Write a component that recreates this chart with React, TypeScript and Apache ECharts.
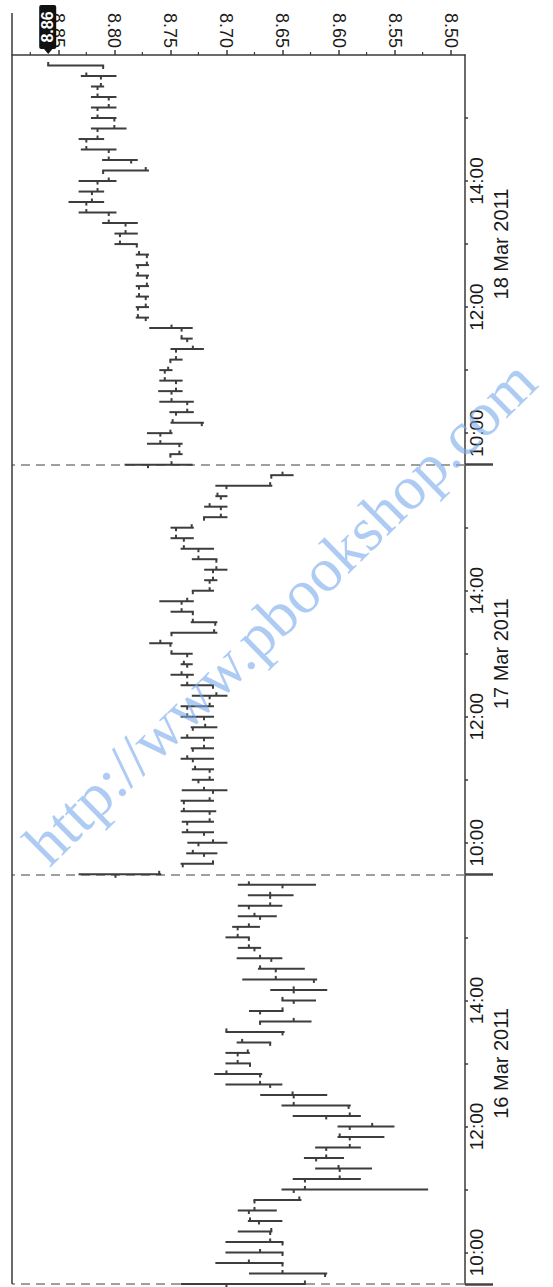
import React, { useEffect, useRef } from "react";
import * as echarts from "echarts";

// ---------- data ----------
const sessionDates = ["16 Mar 2011", "17 Mar 2011", "18 Mar 2011"];
const sessionOpen = "09:30";
const sessionClose = "16:00";
const barTimes = [
  "09:30", "09:40", "09:50", "10:00", "10:10", "10:20", "10:30", "10:40", "10:50",
  "11:00", "11:10", "11:20", "11:30", "11:40", "11:50", "12:00", "12:10", "12:20",
  "12:30", "12:40", "12:50", "13:00", "13:10", "13:20", "13:30", "13:40", "13:50",
  "14:00", "14:10", "14:20", "14:30", "14:40", "14:50", "15:00", "15:10", "15:20",
  "15:30", "15:40", "15:50",
];
// [open, high, low, close]
const day1 = [
  [8.70, 8.74, 8.63, 8.63], [8.612, 8.679, 8.611, 8.65], [8.65, 8.709, 8.65, 8.68],
  [8.65, 8.70, 8.65, 8.67], [8.65, 8.70, 8.65, 8.661], [8.661, 8.689, 8.66, 8.66],
  [8.671, 8.68, 8.651, 8.679], [8.68, 8.689, 8.656, 8.675], [8.675, 8.675, 8.634, 8.635],
  [8.64, 8.65, 8.521, 8.63], [8.63, 8.64, 8.581, 8.599], [8.599, 8.62, 8.571, 8.60],
  [8.62, 8.63, 8.596, 8.611], [8.611, 8.62, 8.581, 8.59], [8.59, 8.60, 8.56, 8.599],
  [8.59, 8.60, 8.551, 8.57], [8.611, 8.64, 8.581, 8.59], [8.591, 8.65, 8.59, 8.64],
  [8.64, 8.669, 8.611, 8.641], [8.661, 8.70, 8.651, 8.67], [8.67, 8.71, 8.669, 8.70],
  [8.679, 8.70, 8.679, 8.69], [8.69, 8.70, 8.68, 8.681], [8.661, 8.69, 8.661, 8.686],
  [8.65, 8.70, 8.649, 8.70], [8.67, 8.67, 8.625, 8.64], [8.67, 8.679, 8.65, 8.65],
  [8.64, 8.65, 8.621, 8.65], [8.64, 8.66, 8.611, 8.64], [8.622, 8.685, 8.62, 8.656],
  [8.656, 8.671, 8.631, 8.67], [8.66, 8.69, 8.651, 8.67], [8.675, 8.689, 8.67, 8.68],
  [8.68, 8.70, 8.68, 8.69], [8.69, 8.694, 8.671, 8.68], [8.67, 8.689, 8.656, 8.675],
  [8.68, 8.689, 8.651, 8.661], [8.661, 8.68, 8.641, 8.661], [8.65, 8.689, 8.621, 8.68],
];
const day2 = [
  [8.799, 8.831, 8.759, 8.76], [8.739, 8.74, 8.712, 8.712], [8.72, 8.735, 8.709, 8.73],
  [8.725, 8.734, 8.70, 8.712], [8.72, 8.739, 8.712, 8.735], [8.735, 8.739, 8.712, 8.715],
  [8.715, 8.74, 8.71, 8.738], [8.738, 8.74, 8.712, 8.715], [8.712, 8.739, 8.70, 8.72],
  [8.725, 8.73, 8.712, 8.715], [8.715, 8.73, 8.712, 8.728], [8.73, 8.74, 8.712, 8.735],
  [8.73, 8.731, 8.712, 8.72], [8.72, 8.74, 8.712, 8.735], [8.73, 8.731, 8.709, 8.719],
  [8.72, 8.74, 8.712, 8.735], [8.735, 8.74, 8.712, 8.715], [8.715, 8.73, 8.70, 8.709],
  [8.712, 8.74, 8.712, 8.735], [8.735, 8.749, 8.73, 8.74], [8.735, 8.74, 8.731, 8.738],
  [8.735, 8.749, 8.731, 8.749], [8.75, 8.768, 8.749, 8.759], [8.749, 8.749, 8.709, 8.711],
  [8.71, 8.731, 8.709, 8.73], [8.73, 8.749, 8.73, 8.74], [8.74, 8.759, 8.73, 8.735],
  [8.73, 8.73, 8.712, 8.715], [8.715, 8.719, 8.709, 8.712], [8.712, 8.719, 8.70, 8.709],
  [8.709, 8.73, 8.709, 8.725], [8.725, 8.74, 8.712, 8.738], [8.738, 8.749, 8.73, 8.745],
  [8.745, 8.749, 8.73, 8.731], [8.72, 8.72, 8.70, 8.705], [8.705, 8.719, 8.70, 8.715],
  [8.705, 8.709, 8.70, 8.708], [8.70, 8.709, 8.66, 8.661], [8.66, 8.66, 8.641, 8.65],
];
const day3 = [
  [8.77, 8.79, 8.731, 8.749], [8.75, 8.75, 8.74, 8.742], [8.742, 8.77, 8.74, 8.759],
  [8.759, 8.77, 8.749, 8.75], [8.722, 8.749, 8.721, 8.748], [8.745, 8.75, 8.73, 8.735],
  [8.735, 8.759, 8.73, 8.749], [8.749, 8.76, 8.74, 8.745], [8.745, 8.759, 8.74, 8.755],
  [8.755, 8.759, 8.749, 8.752], [8.75, 8.75, 8.74, 8.745], [8.745, 8.749, 8.721, 8.73],
  [8.735, 8.74, 8.731, 8.74], [8.74, 8.768, 8.731, 8.749], [8.772, 8.78, 8.77, 8.779],
  [8.779, 8.78, 8.77, 8.772], [8.772, 8.78, 8.77, 8.778], [8.778, 8.78, 8.77, 8.771],
  [8.771, 8.78, 8.77, 8.779], [8.779, 8.78, 8.77, 8.771], [8.771, 8.78, 8.77, 8.778],
  [8.78, 8.799, 8.78, 8.795], [8.795, 8.799, 8.78, 8.79], [8.79, 8.81, 8.78, 8.805],
  [8.805, 8.831, 8.799, 8.825], [8.825, 8.84, 8.81, 8.82], [8.82, 8.831, 8.81, 8.815],
  [8.815, 8.831, 8.799, 8.805], [8.81, 8.81, 8.77, 8.772], [8.785, 8.81, 8.78, 8.805],
  [8.805, 8.829, 8.799, 8.825], [8.825, 8.831, 8.81, 8.815], [8.815, 8.82, 8.79, 8.80],
  [8.80, 8.82, 8.799, 8.815], [8.815, 8.82, 8.799, 8.805], [8.805, 8.82, 8.799, 8.815],
  [8.815, 8.82, 8.81, 8.812], [8.812, 8.829, 8.799, 8.825], [8.81, 8.859, 8.81, 8.859],
];
const priceLabels = [8.85, 8.80, 8.75, 8.70, 8.65, 8.60, 8.55, 8.50];
const priceMinorTicks = [8.875, 8.825, 8.775, 8.725, 8.675, 8.625, 8.575, 8.525];
const priceMin = 8.4872;
const priceMax = 8.8913;
const timeLabels = ["10:00", "12:00", "14:00"];
const hourTicks = ["10:00", "11:00", "12:00", "13:00", "14:00", "15:00"];
const dateLabelTime = "13:00";
const watermark = "http://www.pbookshop.com";

// ---------- layout ----------
const W = 553;
const H = 1287;
const gridLeft = 12;
const gridRight = 88;
const gridTop = 55;
const gridBottom = 3;
const FONT = "'Liberation Sans', Arial, Helvetica, sans-serif";
const AXIS_COLOR = "#3a3a3a";
const BAR_COLOR = "#3d3d3d";

const toMin = (s: string) => {
  const [h, m] = s.split(":").map(Number);
  return h * 60 + m;
};
const SESSION = toMin(sessionClose) - toMin(sessionOpen);
const minutesIn = (s: string) => toMin(s) - toMin(sessionOpen);
const fmtTime = (v: number) => {
  const m = (Math.round(v) % SESSION) + toMin(sessionOpen);
  const hh = Math.floor(m / 60);
  const mm = m % 60;
  return `${hh}:${mm < 10 ? "0" + mm : mm}`;
};

export default function App() {
  const ref = useRef<HTMLDivElement>(null);
  useEffect(() => {
    if (!ref.current) return;
    const chart = echarts.init(ref.current, undefined, { renderer: "svg" });

    const bars: number[][] = [];
    [day1, day2, day3].forEach((day, d) =>
      day.forEach((b, i) => bars.push([d * SESSION + minutesIn(barTimes[i]), b[0], b[1], b[2], b[3]]))
    );
    const days = sessionDates.map((_, d) => d);
    const labelValues = days.flatMap((d) => timeLabels.map((t) => d * SESSION + minutesIn(t)));
    const hourValues = days.flatMap((d) => hourTicks.map((t) => d * SESSION + minutesIn(t)));
    const boundaryValues = days.map((d) => d * SESSION);
    const dateValues = days.map((d) => d * SESSION + minutesIn(dateLabelTime));
    const tMax = sessionDates.length * SESSION;

    const yBase = {
      type: "value",
      position: "right",
      min: 0,
      max: tMax,
      splitLine: { show: false },
    };

    chart.setOption({
      animation: false,
      backgroundColor: "#ffffff",
      grid: { left: gridLeft, right: gridRight, top: gridTop, bottom: gridBottom, containLabel: false },
      xAxis: [
        {
          type: "value",
          position: "top",
          inverse: true,
          min: priceMin,
          max: priceMax,
          splitLine: { show: false },
          axisLine: { show: true, onZero: false, lineStyle: { color: AXIS_COLOR, width: 1.5 } },
          axisTick: { show: true, customValues: priceLabels, length: 5, lineStyle: { color: AXIS_COLOR, width: 1.5 } },
          axisLabel: {
            show: true,
            customValues: priceLabels,
            rotate: 90,
            margin: 7,
            fontSize: 18,
            fontFamily: FONT,
            color: "#1a1a1a",
            formatter: (v: number) => v.toFixed(2),
          },
        },
      ],
      yAxis: [
        {
          ...yBase,
          axisLine: { show: true, onZero: false, lineStyle: { color: AXIS_COLOR, width: 1.5 } },
          axisTick: { show: true, customValues: hourValues, length: 3, lineStyle: { color: AXIS_COLOR, width: 1.5 } },
          axisLabel: {
            show: true,
            customValues: labelValues,
            rotate: 90,
            margin: 2,
            fontSize: 19,
            fontFamily: FONT,
            color: "#1a1a1a",
            formatter: (v: number) => fmtTime(v),
          },
        },
        {
          ...yBase,
          axisLine: { show: false },
          axisTick: { show: true, customValues: boundaryValues, length: 28, lineStyle: { color: "#444", width: 2.5 } },
          axisLabel: { show: false },
        },
        {
          ...yBase,
          axisLine: { show: false },
          axisTick: { show: false },
          axisLabel: {
            show: true,
            customValues: dateValues,
            rotate: 90,
            margin: 26,
            fontSize: 20,
            fontFamily: FONT,
            color: "#1a1a1a",
            formatter: (v: number) => sessionDates[Math.floor(v / SESSION)],
          },
        },
      ],
      series: [
        {
          type: "line",
          data: [],
          z: 1,
          silent: true,
          markLine: {
            silent: true,
            symbol: ["none", "none"],
            label: { show: false },
            lineStyle: { color: "#808080", width: 1.5, type: [9, 6] },
            data: boundaryValues.map((v) => ({ yAxis: v })),
          },
        },
        {
          type: "custom",
          z: 10,
          clip: false,
          data: bars,
          encode: { x: [1, 2, 3, 4], y: 0 },
          renderItem: (params: any, api: any) => {
            const t = api.value(0);
            const o = api.coord([api.value(1), t]);
            const h = api.coord([api.value(2), t]);
            const l = api.coord([api.value(3), t]);
            const c = api.coord([api.value(4), t]);
            const style = { stroke: BAR_COLOR, lineWidth: 2, lineCap: "butt" };
            const tl = 3.5;
            return {
              type: "group",
              children: [
                { type: "line", shape: { x1: h[0] - 1, y1: h[1], x2: l[0] + 1, y2: l[1] }, style },
                { type: "line", shape: { x1: o[0], y1: o[1], x2: o[0], y2: o[1] + tl }, style },
                { type: "line", shape: { x1: c[0], y1: c[1], x2: c[0], y2: c[1] - tl }, style },
              ],
            };
          },
        },
      ],
    });

    const lastClose = day3[day3.length - 1][3];
    const px = chart.convertToPixel({ xAxisIndex: 0 }, lastClose) as number;
    const plotBottom = H - gridBottom;
    const minorTickEls = priceMinorTicks.map((v) => {
      const x = chart.convertToPixel({ xAxisIndex: 0 }, v) as number;
      return {
        type: "line",
        z: 20,
        shape: { x1: x, y1: gridTop, x2: x, y2: gridTop - 3 },
        style: { stroke: AXIS_COLOR, lineWidth: 1.2 },
      };
    });
    chart.setOption({
      graphic: [
        ...minorTickEls,
        {
          type: "line",
          z: 20,
          shape: { x1: gridLeft, y1: 13, x2: gridLeft, y2: plotBottom },
          style: { stroke: AXIS_COLOR, lineWidth: 1.5 },
        },
        {
          type: "polygon",
          z: 30,
          shape: { points: [[px - 5, gridTop - 7], [px + 5, gridTop - 7], [px, gridTop - 1]] },
          style: { fill: "#111" },
        },
        {
          type: "rect",
          z: 30,
          shape: { x: px - 9, y: 5, width: 17, height: gridTop - 11, r: 2 },
          style: { fill: "#111" },
        },
        {
          type: "text",
          z: 31,
          x: px - 0.5,
          y: 5 + (gridTop - 11) / 2,
          rotation: Math.PI / 2,
          style: {
            text: lastClose.toFixed(2),
            fill: "#ffffff",
            font: `bold 16px ${FONT}`,
            align: "center",
            verticalAlign: "middle",
          },
        },
        {
          type: "text",
          z: 40,
          silent: true,
          x: 280,
          y: 612,
          rotation: (44.5 * Math.PI) / 180,
          style: {
            text: watermark,
            fill: "rgba(120, 170, 235, 0.6)",
            font: `62px 'Liberation Serif', 'DejaVu Serif', serif`,
            align: "center",
            verticalAlign: "middle",
          },
        },
      ],
    });

    return () => chart.dispose();
  }, []);

  return (
    <div
      ref={ref}
      style={{ position: "absolute", left: 0, top: 0, width: W, height: H, background: "#fff" }}
    />
  );
}
